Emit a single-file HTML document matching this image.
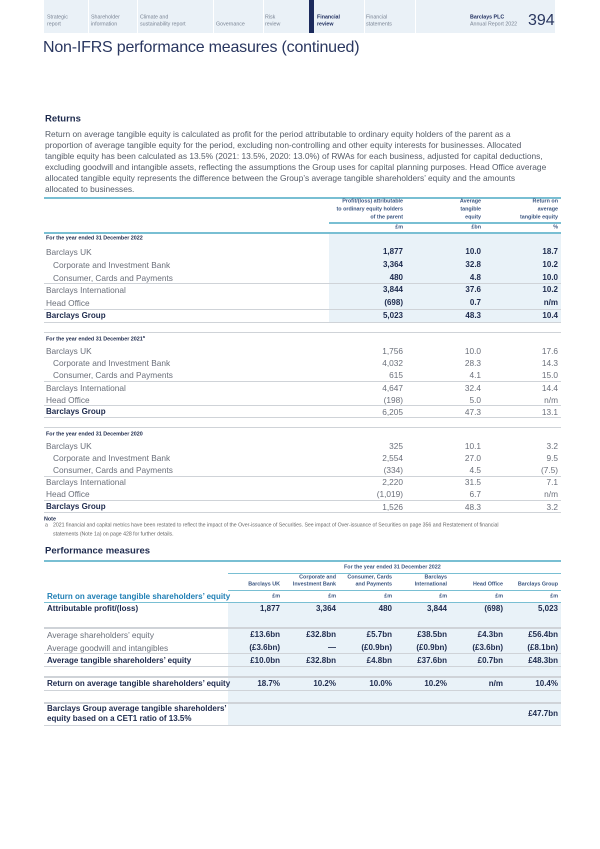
<!DOCTYPE html>
<html><head><meta charset="utf-8"><style>
*{margin:0;padding:0;box-sizing:border-box}
body{width:600px;height:849px;background:#fff;position:relative;overflow:hidden;font-family:"Liberation Sans",sans-serif;color:#1d2a4d}
.t{position:absolute;white-space:nowrap;line-height:1;transform:translateY(-50%)}
.r{text-align:right}
.l{position:absolute;height:1px;background:#cfd3d8}
.tl{position:absolute;height:1.5px;background:#79bfd3}
.sh{position:absolute;background:#e9f2f8}
.lt{color:#6a6f7a;font-size:8.3px}
.b{font-weight:bold;font-size:8px}
.hd{font-size:5.4px;font-weight:bold;color:#3a5580}
.tab{color:#7a8494;font-size:5.3px}
.p{position:absolute;left:45px;white-space:nowrap;font-size:8.4px;line-height:1;transform:translateY(-50%);color:#555c68}
</style></head><body>
<!-- header bar -->
<div style="position:absolute;left:44px;top:0;width:511px;height:33px;background:#eaf1f7"></div>
<div style="position:absolute;left:88px;top:0;width:1px;height:33px;background:#fff"></div>
<div style="position:absolute;left:137px;top:0;width:1px;height:33px;background:#fff"></div>
<div style="position:absolute;left:213px;top:0;width:1px;height:33px;background:#fff"></div>
<div style="position:absolute;left:263px;top:0;width:1px;height:33px;background:#fff"></div>
<div style="position:absolute;left:309px;top:0;width:5px;height:33px;background:#1b2a5c"></div>
<div style="position:absolute;left:364px;top:0;width:1px;height:33px;background:#fff"></div>
<div style="position:absolute;left:415px;top:0;width:1px;height:33px;background:#fff"></div>
<div class="t tab" style="left:47px;top:18px">Strategic</div><div class="t tab" style="left:47px;top:25px">report</div>
<div class="t tab" style="left:91px;top:18px">Shareholder</div><div class="t tab" style="left:91px;top:25px">information</div>
<div class="t tab" style="left:140px;top:18px">Climate and</div><div class="t tab" style="left:140px;top:25px">sustainability report</div>
<div class="t tab" style="left:216px;top:25px">Governance</div>
<div class="t tab" style="left:265px;top:18px">Risk</div><div class="t tab" style="left:265px;top:25px">review</div>
<div class="t tab" style="left:317px;top:18px;color:#1b2a5c;font-weight:bold">Financial</div><div class="t tab" style="left:317px;top:25px;color:#1b2a5c;font-weight:bold">review</div>
<div class="t tab" style="left:366px;top:18px">Financial</div><div class="t tab" style="left:366px;top:25px">statements</div>
<div class="t tab" style="left:470px;top:18px;color:#1b2a5c;font-weight:bold">Barclays PLC</div><div class="t tab" style="left:470px;top:25px">Annual Report 2022</div>
<div class="t" style="left:528px;top:21px;font-size:16px;color:#2a3760">394</div>
<!-- title -->
<div class="t" style="left:43px;top:48px;font-size:16px;color:#2a3760;letter-spacing:-0.2px">Non-IFRS performance measures (continued)</div>
<div class="t" style="left:45px;top:119px;font-size:9.5px;font-weight:bold">Returns</div>
<div class="p" style="top:134px">Return on average tangible equity is calculated as profit for the period attributable to ordinary equity holders of the parent as a</div>
<div class="p" style="top:145px">proportion of average tangible equity for the period, excluding non-controlling and other equity interests for businesses. Allocated</div>
<div class="p" style="top:156px">tangible equity has been calculated as 13.5% (2021: 13.5%, 2020: 13.0%) of RWAs for each business, adjusted for capital deductions,</div>
<div class="p" style="top:167px">excluding goodwill and intangible assets, reflecting the assumptions the Group uses for capital planning purposes. Head Office average</div>
<div class="p" style="top:178px">allocated tangible equity represents the difference between the Group’s average tangible shareholders’ equity and the amounts</div>
<div class="p" style="top:189px">allocated to businesses.</div>
<!-- table 1 -->
<div class="sh" style="left:329px;top:233px;width:232px;height:89px"></div>
<div class="tl" style="left:44px;top:197px;width:517px"></div>
<div class="t r hd" style="right:197px;top:202px">Profit/(loss) attributable</div>
<div class="t r hd" style="right:197px;top:210px">to ordinary equity holders</div>
<div class="t r hd" style="right:197px;top:218px">of the parent</div>
<div class="t r hd" style="right:119px;top:202px">Average</div>
<div class="t r hd" style="right:119px;top:210px">tangible</div>
<div class="t r hd" style="right:119px;top:218px">equity</div>
<div class="t r hd" style="right:42px;top:202px">Return on</div>
<div class="t r hd" style="right:42px;top:210px">average</div>
<div class="t r hd" style="right:42px;top:218px">tangible equity</div>
<div class="tl" style="left:329px;top:222px;width:232px"></div>
<div class="t r hd" style="right:197px;top:228px">£m</div>
<div class="t r hd" style="right:119px;top:228px">£bn</div>
<div class="t r hd" style="right:42px;top:228px">%</div>
<div class="tl" style="left:44px;top:232px;width:517px"></div>
<div class="t hd" style="left:46px;top:239px;color:#1d2a4d">For the year ended 31 December 2022</div>
<div class="t lt" style="left:46px;top:252px">Barclays UK</div>
<div class="t lt" style="left:53px;top:265px">Corporate and Investment Bank</div>
<div class="t lt" style="left:53px;top:278px">Consumer, Cards and Payments</div>
<div class="l" style="left:44px;top:283px;width:517px"></div>
<div class="t lt" style="left:46px;top:290px">Barclays International</div>
<div class="t lt" style="left:46px;top:303px">Head Office</div>
<div class="l" style="left:44px;top:309px;width:517px"></div>
<div class="t b" style="left:46px;top:316px">Barclays Group</div>
<div class="l" style="left:44px;top:322px;width:517px"></div>
<div class="t r b" style="right:197px;top:252px">1,877</div><div class="t r b" style="right:119px;top:252px">10.0</div><div class="t r b" style="right:42px;top:252px">18.7</div>
<div class="t r b" style="right:197px;top:265px">3,364</div><div class="t r b" style="right:119px;top:265px">32.8</div><div class="t r b" style="right:42px;top:265px">10.2</div>
<div class="t r b" style="right:197px;top:278px">480</div><div class="t r b" style="right:119px;top:278px">4.8</div><div class="t r b" style="right:42px;top:278px">10.0</div>
<div class="t r b" style="right:197px;top:290px">3,844</div><div class="t r b" style="right:119px;top:290px">37.6</div><div class="t r b" style="right:42px;top:290px">10.2</div>
<div class="t r b" style="right:197px;top:303px">(698)</div><div class="t r b" style="right:119px;top:303px">0.7</div><div class="t r b" style="right:42px;top:303px">n/m</div>
<div class="t r b" style="right:197px;top:316px">5,023</div><div class="t r b" style="right:119px;top:316px">48.3</div><div class="t r b" style="right:42px;top:316px">10.4</div>
<!-- 2021 -->
<div class="l" style="left:44px;top:332px;width:517px"></div>
<div class="t hd" style="left:46px;top:339px;color:#1d2a4d">For the year ended 31 December 2021<sup style="font-size:4px">a</sup></div>
<div class="t lt" style="left:46px;top:351px">Barclays UK</div>
<div class="t lt" style="left:53px;top:363px">Corporate and Investment Bank</div>
<div class="t lt" style="left:53px;top:375px">Consumer, Cards and Payments</div>
<div class="l" style="left:44px;top:381px;width:517px"></div>
<div class="t lt" style="left:46px;top:388px">Barclays International</div>
<div class="t lt" style="left:46px;top:400px">Head Office</div>
<div class="l" style="left:44px;top:405px;width:517px"></div>
<div class="t b" style="left:46px;top:412px">Barclays Group</div>
<div class="l" style="left:44px;top:417px;width:517px"></div>
<div class="t r lt" style="right:197px;top:351px">1,756</div><div class="t r lt" style="right:119px;top:351px">10.0</div><div class="t r lt" style="right:42px;top:351px">17.6</div>
<div class="t r lt" style="right:197px;top:363px">4,032</div><div class="t r lt" style="right:119px;top:363px">28.3</div><div class="t r lt" style="right:42px;top:363px">14.3</div>
<div class="t r lt" style="right:197px;top:375px">615</div><div class="t r lt" style="right:119px;top:375px">4.1</div><div class="t r lt" style="right:42px;top:375px">15.0</div>
<div class="t r lt" style="right:197px;top:388px">4,647</div><div class="t r lt" style="right:119px;top:388px">32.4</div><div class="t r lt" style="right:42px;top:388px">14.4</div>
<div class="t r lt" style="right:197px;top:400px">(198)</div><div class="t r lt" style="right:119px;top:400px">5.0</div><div class="t r lt" style="right:42px;top:400px">n/m</div>
<div class="t r lt" style="right:197px;top:412px">6,205</div><div class="t r lt" style="right:119px;top:412px">47.3</div><div class="t r lt" style="right:42px;top:412px">13.1</div>
<!-- 2020 -->
<div class="l" style="left:44px;top:427px;width:517px"></div>
<div class="t hd" style="left:46px;top:435px;color:#1d2a4d">For the year ended 31 December 2020</div>
<div class="t lt" style="left:46px;top:446px">Barclays UK</div>
<div class="t lt" style="left:53px;top:458px">Corporate and Investment Bank</div>
<div class="t lt" style="left:53px;top:470px">Consumer, Cards and Payments</div>
<div class="l" style="left:44px;top:476px;width:517px"></div>
<div class="t lt" style="left:46px;top:482px">Barclays International</div>
<div class="t lt" style="left:46px;top:494px">Head Office</div>
<div class="l" style="left:44px;top:500px;width:517px"></div>
<div class="t b" style="left:46px;top:507px">Barclays Group</div>
<div class="l" style="left:44px;top:512px;width:517px"></div>
<div class="t r lt" style="right:197px;top:446px">325</div><div class="t r lt" style="right:119px;top:446px">10.1</div><div class="t r lt" style="right:42px;top:446px">3.2</div>
<div class="t r lt" style="right:197px;top:458px">2,554</div><div class="t r lt" style="right:119px;top:458px">27.0</div><div class="t r lt" style="right:42px;top:458px">9.5</div>
<div class="t r lt" style="right:197px;top:470px">(334)</div><div class="t r lt" style="right:119px;top:470px">4.5</div><div class="t r lt" style="right:42px;top:470px">(7.5)</div>
<div class="t r lt" style="right:197px;top:482px">2,220</div><div class="t r lt" style="right:119px;top:482px">31.5</div><div class="t r lt" style="right:42px;top:482px">7.1</div>
<div class="t r lt" style="right:197px;top:494px">(1,019)</div><div class="t r lt" style="right:119px;top:494px">6.7</div><div class="t r lt" style="right:42px;top:494px">n/m</div>
<div class="t r lt" style="right:197px;top:507px">1,526</div><div class="t r lt" style="right:119px;top:507px">48.3</div><div class="t r lt" style="right:42px;top:507px">3.2</div>
<div class="t hd" style="left:44px;top:520px;color:#1d2a4d">Note</div>
<div class="t" style="left:45px;top:526px;font-size:5.2px;color:#666">a</div>
<div class="t" style="left:53px;top:526px;font-size:5.2px;color:#666">2021 financial and capital metrics have been restated to reflect the impact of the Over-issuance of Securities. See impact of Over-issuance of Securities on page 356 and Restatement of financial</div>
<div class="t" style="left:53px;top:535px;font-size:5.2px;color:#666">statements (Note 1a) on page 428 for further details.</div>
<!-- performance measures -->
<div class="t" style="left:45px;top:551px;font-size:9.5px;font-weight:bold">Performance measures</div>
<div class="sh" style="left:228px;top:602px;width:333px;height:123px"></div>
<div class="tl" style="left:44px;top:560px;width:517px"></div>
<div class="t hd" style="left:344px;top:568px">For the year ended 31 December 2022</div>
<div class="tl" style="left:228px;top:572.5px;width:333px"></div>
<div class="t r hd" style="right:320px;top:585px">Barclays UK</div>
<div class="t r hd" style="right:264px;top:578px">Corporate and</div><div class="t r hd" style="right:264px;top:585px">Investment Bank</div>
<div class="t r hd" style="right:208px;top:578px">Consumer, Cards</div><div class="t r hd" style="right:208px;top:585px">and Payments</div>
<div class="t r hd" style="right:153px;top:578px">Barclays</div><div class="t r hd" style="right:153px;top:585px">International</div>
<div class="t r hd" style="right:97px;top:585px">Head Office</div>
<div class="t r hd" style="right:42px;top:585px">Barclays Group</div>
<div class="tl" style="left:228px;top:589.5px;width:333px"></div>
<div class="t" style="left:47px;top:597px;font-size:8px;font-weight:bold;color:#1f7fb5">Return on average tangible shareholders’ equity</div>
<div class="t r hd" style="right:320px;top:597px">£m</div><div class="t r hd" style="right:264px;top:597px">£m</div><div class="t r hd" style="right:208px;top:597px">£m</div><div class="t r hd" style="right:153px;top:597px">£m</div><div class="t r hd" style="right:97px;top:597px">£m</div><div class="t r hd" style="right:42px;top:597px">£m</div>
<div class="tl" style="left:44px;top:601.5px;width:517px"></div>
<div class="t b" style="left:47px;top:609px">Attributable profit/(loss)</div>
<div class="t r b" style="right:320px;top:609px">1,877</div><div class="t r b" style="right:264px;top:609px">3,364</div><div class="t r b" style="right:208px;top:609px">480</div><div class="t r b" style="right:153px;top:609px">3,844</div><div class="t r b" style="right:97px;top:609px">(698)</div><div class="t r b" style="right:42px;top:609px">5,023</div>
<div class="l" style="left:44px;top:627px;width:517px;height:1.5px"></div>
<div class="t lt" style="left:47px;top:635px">Average shareholders’ equity</div>
<div class="t r b" style="right:320px;top:635px">£13.6bn</div><div class="t r b" style="right:264px;top:635px">£32.8bn</div><div class="t r b" style="right:208px;top:635px">£5.7bn</div><div class="t r b" style="right:153px;top:635px">£38.5bn</div><div class="t r b" style="right:97px;top:635px">£4.3bn</div><div class="t r b" style="right:42px;top:635px">£56.4bn</div>
<div class="t lt" style="left:47px;top:648px">Average goodwill and intangibles</div>
<div class="t r b" style="right:320px;top:648px">(£3.6bn)</div><div class="t r b" style="right:264px;top:648px">—</div><div class="t r b" style="right:208px;top:648px">(£0.9bn)</div><div class="t r b" style="right:153px;top:648px">(£0.9bn)</div><div class="t r b" style="right:97px;top:648px">(£3.6bn)</div><div class="t r b" style="right:42px;top:648px">(£8.1bn)</div>
<div class="l" style="left:44px;top:653px;width:517px"></div>
<div class="t b" style="left:47px;top:661px">Average tangible shareholders’ equity</div>
<div class="t r b" style="right:320px;top:661px">£10.0bn</div><div class="t r b" style="right:264px;top:661px">£32.8bn</div><div class="t r b" style="right:208px;top:661px">£4.8bn</div><div class="t r b" style="right:153px;top:661px">£37.6bn</div><div class="t r b" style="right:97px;top:661px">£0.7bn</div><div class="t r b" style="right:42px;top:661px">£48.3bn</div>
<div class="l" style="left:44px;top:666px;width:517px"></div>
<div class="l" style="left:44px;top:676px;width:517px;height:1.5px"></div>
<div class="t b" style="left:47px;top:684px">Return on average tangible shareholders’ equity</div>
<div class="t r b" style="right:320px;top:684px">18.7%</div><div class="t r b" style="right:264px;top:684px">10.2%</div><div class="t r b" style="right:208px;top:684px">10.0%</div><div class="t r b" style="right:153px;top:684px">10.2%</div><div class="t r b" style="right:97px;top:684px">n/m</div><div class="t r b" style="right:42px;top:684px">10.4%</div>
<div class="l" style="left:44px;top:690px;width:517px"></div>
<div class="l" style="left:44px;top:702px;width:517px;height:1.5px"></div>
<div class="t b" style="left:47px;top:709px">Barclays Group average tangible shareholders’</div>
<div class="t b" style="left:47px;top:719px">equity based on a CET1 ratio of 13.5%</div>
<div class="t r b" style="right:42px;top:714px">£47.7bn</div>
<div class="l" style="left:44px;top:725px;width:517px"></div>
</body></html>
